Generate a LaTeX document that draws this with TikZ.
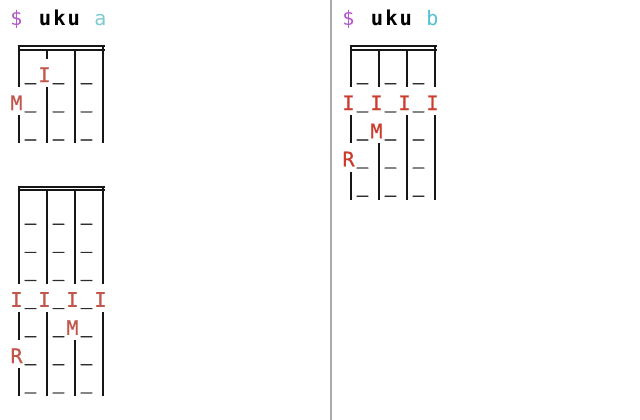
\documentclass[tikz,border=0pt]{standalone}
\usepackage{fontspec}
\newfontfamily\monoplain{DejaVu Sans Mono}
\newfontfamily\monoltr[FakeBold=0.8]{DejaVu Sans Mono}
\newfontfamily\monous[FakeBold=2.2]{DejaVu Sans Mono}
\newfontfamily\monols[LetterSpace=9.8]{DejaVu Sans Mono}
\definecolor{dollarc}{HTML}{B455CC}
\definecolor{tealA}{HTML}{7CCBD0}
\definecolor{tealB}{HTML}{52C0D2}
\definecolor{redL}{HTML}{C2564A}
\definecolor{redR}{HTML}{CC3C2E}
\definecolor{inkc}{HTML}{161616}
\definecolor{usc}{HTML}{2E2E2E}
\definecolor{divc}{HTML}{ABABAB}
\begin{document}
\begin{tikzpicture}[x=1pt,y=-1pt,
  declare function={ctop(\k)=2.9+28.1*\k; cbot(\k)=31+28.1*\k; bl(\k)=25.8+28.1*\k;},
  vline/.style={line width=2.9pt, draw=inkc},
  dbl/.style={line width=2pt, draw=inkc},
  hd/.style={inner sep=0pt, anchor=base, font=\monoplain\fontsize{20}{20}\selectfont},
  glyph/.style={inner sep=0pt, anchor=base, font=\monoltr\fontsize{20}{20}\selectfont},
  us/.style={inner sep=0pt, anchor=base, font=\monous\fontsize{19}{19}\selectfont, text=usc},
  ltrL/.style={glyph, text=redL},
  ltrR/.style={glyph, text=redR},
  divider/.style={line width=2.2pt, draw=divc}]
\useasboundingbox (0,0) rectangle (640,420);
\fill[white] (0,0) rectangle (640,420);
% divider
\draw[divider] (331,0) -- (331,420);
% headers
\node[hd, text=dollarc] (dA) at (16.5,{bl(0)}) {\$};
\node[hd, font=\monols\bfseries\fontsize{20.5}{20.5}\selectfont, text=black] (wA) at (59.5,{bl(0)}) {uku};
\node[hd, text=tealA] (aA) at (100.5,{bl(0)}) {a};
\node[hd, text=dollarc] (dB) at (348.5,{bl(0)}) {\$};
\node[hd, font=\monols\bfseries\fontsize{20.5}{20.5}\selectfont, text=black] (wB) at (391.5,{bl(0)}) {uku};
\node[hd, text=tealB] (bB) at (432.5,{bl(0)}) {b};
% top borders
\foreach \ox/\oy in {0/0, 0/140.5, 332/0} {
  \draw[dbl] ({17.5+\ox},{46+\oy}) -- ({104.5+\ox},{46+\oy});
  \draw[dbl] ({17.5+\ox},{49.8+\oy}) -- ({104.5+\ox},{49.8+\oy});
}
% block 1 strings
\draw[vline] (19,45) -- (19,{cbot(2)});
\draw[vline] (19,{ctop(4)}) -- (19,{cbot(4)});
\draw[vline] (47,49.8) -- (47,{cbot(1)});
\draw[vline] (47,{ctop(3)}) -- (47,{cbot(4)});
\draw[vline] (75,49.8) -- (75,{cbot(4)});
\draw[vline] (103,45) -- (103,{cbot(4)});
% block 2 strings
\draw[vline] (19,185.5) -- (19,{cbot(9)});
\draw[vline] (19,{ctop(11)}) -- (19,{cbot(11)});
\draw[vline] (19,{ctop(13)}) -- (19,{cbot(13)});
\draw[vline] (47,190.3) -- (47,{cbot(9)});
\draw[vline] (47,{ctop(11)}) -- (47,{cbot(13)});
\draw[vline] (75,190.3) -- (75,{cbot(9)});
\draw[vline] (75,{ctop(12)}) -- (75,{cbot(13)});
\draw[vline] (103,185.5) -- (103,{cbot(9)});
\draw[vline] (103,{ctop(11)}) -- (103,{cbot(13)});
% right block strings
\draw[vline] (351,45) -- (351,{cbot(2)});
\draw[vline] (351,{ctop(4)}) -- (351,{cbot(4)});
\draw[vline] (351,{ctop(6)}) -- (351,{cbot(6)});
\draw[vline] (379,49.8) -- (379,{cbot(2)});
\draw[vline] (379,{ctop(5)}) -- (379,{cbot(6)});
\draw[vline] (407,49.8) -- (407,{cbot(2)});
\draw[vline] (407,{ctop(4)}) -- (407,{cbot(6)});
\draw[vline] (435,45) -- (435,{cbot(2)});
\draw[vline] (435,{ctop(4)}) -- (435,{cbot(6)});
% underscores
\foreach \k in {2,3,4,7,8,9,10,11,12,13}
  \foreach \x [count=\i] in {30.5,58.5,86.5}
    \node[us] (uL\k-\i) at (\x,{bl(\k)-2.3}) {\_};
\foreach \k in {2,3,4,5,6}
  \foreach \x [count=\i] in {362.5,390.5,418.5}
    \node[us] (uR\k-\i) at (\x,{bl(\k)-2.3}) {\_};
% letters, left
\node[ltrL] (l1) at (44.5,{bl(2)}) {I};
\node[ltrL] (l2) at (16.5,{bl(3)}) {M};
\node[ltrL] (l3) at (16.5,{bl(10)}) {I};
\node[ltrL] (l4) at (44.5,{bl(10)}) {I};
\node[ltrL] (l5) at (72.5,{bl(10)}) {I};
\node[ltrL] (l6) at (100.5,{bl(10)}) {I};
\node[ltrL] (l7) at (72.5,{bl(11)}) {M};
\node[ltrL] (l8) at (16.5,{bl(12)}) {R};
% letters, right
\node[ltrR] (r1) at (348.5,{bl(3)}) {I};
\node[ltrR] (r2) at (376.5,{bl(3)}) {I};
\node[ltrR] (r3) at (404.5,{bl(3)}) {I};
\node[ltrR] (r4) at (432.5,{bl(3)}) {I};
\node[ltrR] (r5) at (376.5,{bl(4)}) {M};
\node[ltrR] (r6) at (348.5,{bl(5)}) {R};
\end{tikzpicture}
\end{document}
